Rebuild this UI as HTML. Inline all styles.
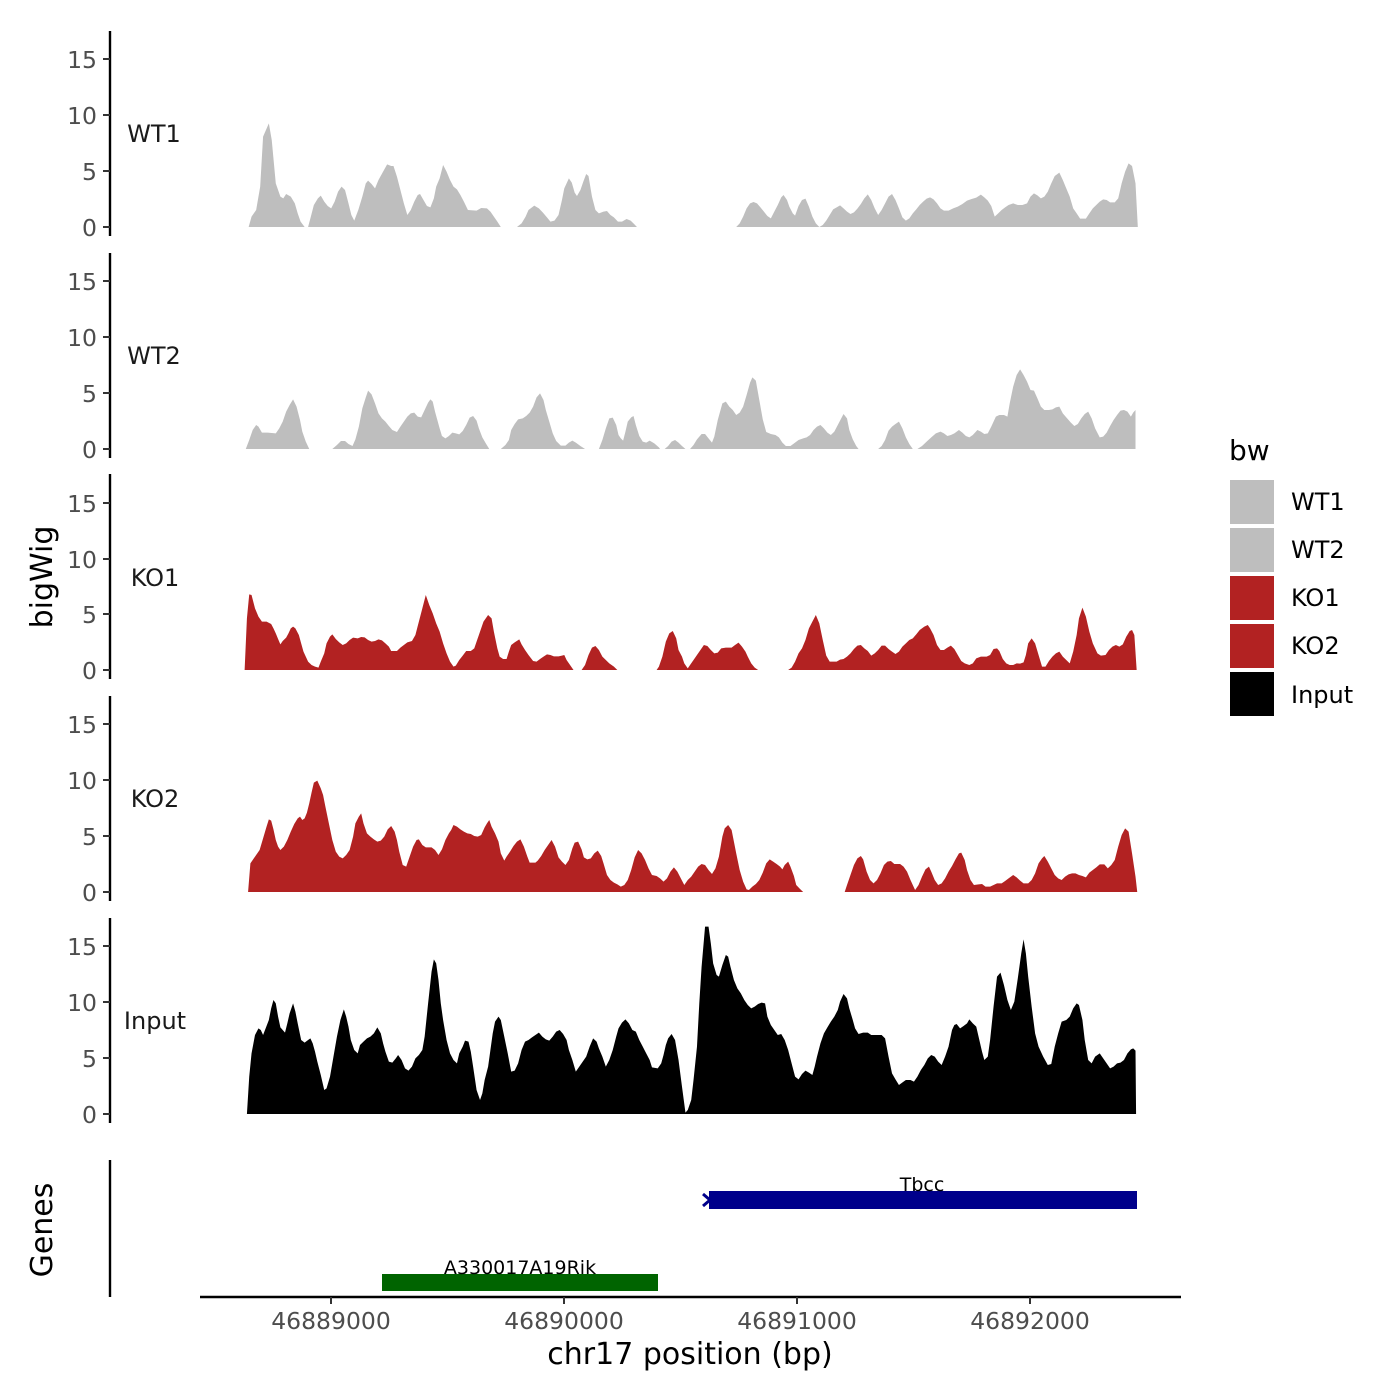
<!DOCTYPE html>
<html><head><meta charset="utf-8"><style>
html,body{margin:0;padding:0;background:#fff}
svg{display:block;font-family:"DejaVu Sans","Liberation Sans",sans-serif}
.t{fill:#4d4d4d;font-size:23.5px}
</style></head><body>
<svg width="1400" height="1400" viewBox="0 0 1400 1400" xmlns="http://www.w3.org/2000/svg">
<rect width="1400" height="1400" fill="#fff"/>
<g stroke="#000" stroke-width="2.4" fill="none">
<line x1="110" y1="31" x2="110" y2="236"/>
<line x1="110" y1="253" x2="110" y2="458"/>
<line x1="110" y1="474" x2="110" y2="679"/>
<line x1="110" y1="696" x2="110" y2="901"/>
<line x1="110" y1="918" x2="110" y2="1123"/>
<line x1="110" y1="1160" x2="110" y2="1297"/>
<line x1="200" y1="1297" x2="1181" y2="1297"/>
</g>
<g stroke="#333" stroke-width="2">
<line x1="103" y1="59" x2="110" y2="59"/><line x1="103" y1="115" x2="110" y2="115"/><line x1="103" y1="171" x2="110" y2="171"/><line x1="103" y1="227" x2="110" y2="227"/>
<line x1="103" y1="281" x2="110" y2="281"/><line x1="103" y1="337" x2="110" y2="337"/><line x1="103" y1="393" x2="110" y2="393"/><line x1="103" y1="449" x2="110" y2="449"/>
<line x1="103" y1="503" x2="110" y2="503"/><line x1="103" y1="559" x2="110" y2="559"/><line x1="103" y1="614" x2="110" y2="614"/><line x1="103" y1="670" x2="110" y2="670"/>
<line x1="103" y1="724" x2="110" y2="724"/><line x1="103" y1="780" x2="110" y2="780"/><line x1="103" y1="836" x2="110" y2="836"/><line x1="103" y1="892" x2="110" y2="892"/>
<line x1="103" y1="946" x2="110" y2="946"/><line x1="103" y1="1002" x2="110" y2="1002"/><line x1="103" y1="1058" x2="110" y2="1058"/><line x1="103" y1="1114" x2="110" y2="1114"/>
<line x1="331" y1="1297" x2="331" y2="1304"/><line x1="564" y1="1297" x2="564" y2="1304"/><line x1="797" y1="1297" x2="797" y2="1304"/><line x1="1030" y1="1297" x2="1030" y2="1304"/>
</g>
<g class="t" text-anchor="end">
<text x="97" y="68">15</text><text x="97" y="124">10</text><text x="97" y="180">5</text><text x="97" y="236">0</text>
<text x="97" y="290">15</text><text x="97" y="346">10</text><text x="97" y="402">5</text><text x="97" y="458">0</text>
<text x="97" y="512">15</text><text x="97" y="568">10</text><text x="97" y="623">5</text><text x="97" y="679">0</text>
<text x="97" y="733">15</text><text x="97" y="789">10</text><text x="97" y="845">5</text><text x="97" y="901">0</text>
<text x="97" y="955">15</text><text x="97" y="1011">10</text><text x="97" y="1067">5</text><text x="97" y="1123">0</text>
</g>
<g class="t" text-anchor="middle">
<text x="331" y="1329">46889000</text><text x="564" y="1329">46890000</text><text x="797" y="1329">46891000</text><text x="1030" y="1329">46892000</text>
</g>
<g font-size="24" fill="#1a1a1a" text-anchor="middle">
<text x="154" y="142">WT1</text><text x="154" y="364">WT2</text><text x="155" y="586">KO1</text><text x="155" y="807">KO2</text><text x="155" y="1029">Input</text>
</g>
<text x="690" y="1364" font-size="30" text-anchor="middle" fill="#000">chr17 position (bp)</text>
<text transform="translate(52,577) rotate(-90)" font-size="30" text-anchor="middle" fill="#000">bigWig</text>
<text transform="translate(52,1230) rotate(-90)" font-size="30" text-anchor="middle" fill="#000">Genes</text>

<g transform="translate(240,100) scale(0.577,0.33333)" fill="#bebebe">
<polygon points="15,381 20,350 28,330 35,260 40,110 50,70 55,120 62,250 70,290 75,295 80,282 88,290 95,310 100,340 105,365 112,381 118,381 122,355 128,315 135,295 140,287 146,305 152,318 158,325 164,305 170,275 176,260 182,270 188,310 193,345 198,362 205,330 212,290 218,250 222,242 228,252 234,265 240,240 248,215 255,193 262,198 266,198 272,230 278,270 284,310 290,345 296,330 302,305 308,285 312,282 318,300 324,318 330,322 336,295 340,260 346,235 352,195 358,215 364,240 370,260 376,268 382,285 388,305 395,330 410,332 418,324 428,325 434,335 440,350 446,365 452,381"/>
<polygon points="480,381 488,370 495,350 500,330 510,317 518,325 525,338 532,352 538,365 545,362 552,345 558,300 562,265 570,235 575,248 580,278 584,288 590,270 595,245 600,222 604,228 610,290 616,330 622,340 630,335 636,333 642,345 648,352 655,365 662,365 670,357 677,362 683,372 688,381"/>
<polygon points="860,381 866,370 872,350 878,325 884,310 890,306 896,310 902,322 908,335 914,348 920,355 926,335 932,315 938,292 942,285 948,300 952,320 958,340 962,347 968,318 974,300 980,296 986,320 992,350 998,370 1004,381 1010,375 1016,362 1022,345 1028,328 1034,322 1040,316 1046,325 1052,335 1058,342 1064,337 1070,326 1076,312 1082,295 1088,283 1094,300 1100,325 1106,345 1112,330 1118,310 1124,290 1130,282 1136,300 1142,325 1148,352 1154,362 1160,355 1166,340 1172,328 1178,315 1184,305 1190,296 1196,292 1202,298 1208,310 1214,325 1220,332 1228,332 1236,325 1244,320 1252,312 1260,302 1268,297 1276,293 1284,284 1290,292 1296,302 1302,318 1308,350 1314,340 1320,330 1326,322 1332,315 1340,310 1348,315 1356,315 1364,310 1370,290 1376,280 1382,286 1388,295 1394,290 1400,275 1406,250 1412,228 1420,218 1426,240 1432,265 1438,290 1444,325 1450,340 1456,356 1466,356 1472,340 1478,325 1484,315 1490,305 1496,298 1502,300 1508,307 1516,307 1522,295 1528,250 1534,215 1540,190 1546,198 1552,250 1556,381"/>
</g>
<g transform="translate(240,360) scale(0.577,0.33333)" fill="#bebebe">
<polygon points="10,267 16,240 22,210 28,195 32,200 38,218 48,218 62,220 68,205 74,185 80,155 86,135 92,118 98,140 104,180 108,215 114,245 120,267"/>
<polygon points="160,267 168,255 175,243 182,243 188,252 195,258 200,238 206,200 212,145 218,112 222,92 228,103 234,130 240,160 246,175 252,185 258,198 264,210 272,216 278,200 284,185 290,170 296,160 302,158 308,170 314,172 320,150 326,128 330,118 334,125 338,155 342,180 346,205 350,228 356,235 362,228 368,218 374,220 380,223 386,213 392,195 398,173 404,168 410,182 414,205 420,232 426,250 432,267"/>
<polygon points="452,267 460,255 466,240 470,210 476,192 482,178 490,175 496,168 502,158 508,140 514,112 520,100 526,120 530,150 536,185 542,220 548,243 556,257 564,257 570,248 576,242 582,248 590,258 598,267"/>
<polygon points="622,267 628,240 634,205 640,175 646,173 652,195 656,225 660,235 664,242 668,215 672,185 678,172 682,168 686,195 692,228 698,245 704,248 710,242 718,250 726,262 728,267"/>
<polygon points="736,267 742,258 748,245 754,240 760,248 766,258 772,267"/>
<polygon points="780,267 786,255 792,238 800,222 806,222 812,235 818,248 822,230 828,180 836,130 842,125 848,140 854,150 860,165 866,158 872,140 878,105 884,68 888,52 894,62 900,120 906,178 912,216 920,222 928,225 934,232 940,248 946,258 954,258 962,248 968,240 976,235 982,232 988,225 994,210 1000,200 1006,195 1012,205 1018,218 1024,225 1030,215 1036,195 1042,175 1046,162 1052,175 1056,210 1062,238 1068,258 1072,267"/>
<polygon points="1106,267 1112,258 1118,240 1124,212 1130,200 1136,192 1142,185 1148,205 1154,232 1160,252 1166,267"/>
<polygon points="1174,267 1182,258 1190,245 1198,232 1206,220 1214,215 1220,220 1226,228 1232,225 1238,220 1246,210 1252,218 1258,228 1264,232 1270,225 1278,210 1284,215 1290,222 1296,220 1302,200 1310,170 1316,165 1324,165 1330,170 1334,130 1340,80 1346,45 1352,28 1358,45 1364,65 1370,90 1376,92 1382,115 1388,140 1394,150 1402,150 1408,148 1414,142 1420,140 1426,160 1432,172 1440,188 1446,198 1452,192 1458,175 1464,162 1470,155 1476,175 1482,205 1490,232 1496,230 1502,218 1508,198 1514,180 1520,165 1526,152 1532,150 1538,155 1544,170 1548,158 1552,150 1552,267"/>
</g>
<g transform="translate(240,585) scale(0.577,0.33333)" fill="#b22222">
<polygon points="8,255 12,100 16,28 20,30 26,70 32,95 38,110 46,110 54,117 58,130 62,145 66,162 70,178 74,168 80,158 84,145 88,130 92,125 96,130 102,150 106,175 110,200 114,215 118,230 124,240 130,245 136,248 140,230 146,205 150,175 156,155 160,148 166,162 172,172 178,180 184,175 190,165 196,158 204,160 210,156 216,157 222,165 228,170 234,168 240,163 246,166 252,175 258,185 262,198 272,198 278,188 284,180 290,172 298,168 304,150 310,110 316,70 322,30 328,60 334,85 340,115 346,140 352,175 358,205 364,230 370,245 374,242 380,225 386,212 392,198 400,198 406,190 410,170 416,140 422,110 430,90 436,100 440,140 446,190 450,215 456,222 462,222 466,200 470,180 476,172 484,163 488,178 494,195 500,210 508,228 514,230 520,222 526,215 532,208 538,210 544,214 552,214 558,212 562,210 566,225 572,240 578,255"/>
<polygon points="592,255 598,240 604,210 610,188 616,183 622,195 628,215 634,225 640,235 648,245 654,255"/>
<polygon points="722,255 726,245 732,215 738,170 744,145 750,138 756,160 760,195 766,215 770,235 776,250 780,240 786,225 792,210 798,195 804,180 810,183 816,195 822,205 828,203 834,190 842,188 852,188 858,180 864,173 870,185 876,200 880,215 886,235 892,248 898,255"/>
<polygon points="950,255 956,248 962,230 968,205 974,190 980,165 986,130 992,110 998,90 1004,115 1010,165 1016,212 1022,230 1034,230 1040,224 1046,222 1052,215 1058,205 1064,192 1070,182 1076,180 1082,190 1088,198 1094,212 1100,205 1106,195 1112,182 1118,182 1124,192 1130,200 1136,207 1142,200 1148,185 1154,175 1160,165 1166,160 1172,148 1178,135 1186,125 1192,120 1196,130 1202,150 1208,180 1214,195 1220,195 1226,188 1232,182 1238,192 1244,210 1250,228 1256,235 1264,240 1270,235 1276,220 1284,215 1294,215 1300,210 1306,192 1312,190 1316,198 1322,222 1328,235 1334,240 1340,240 1346,235 1352,236 1358,232 1362,210 1366,175 1372,160 1378,175 1384,210 1390,245 1396,245 1402,228 1408,215 1414,205 1420,200 1426,215 1432,225 1438,235 1444,200 1450,150 1454,100 1460,68 1466,95 1472,140 1478,175 1486,205 1492,212 1500,210 1506,195 1512,185 1518,180 1524,185 1530,178 1536,155 1542,138 1546,135 1550,150 1554,255"/>
</g>
<g transform="translate(240,770) scale(0.577,0.33333)" fill="#b22222">
<polygon points="14,366 18,280 22,270 28,255 34,240 40,205 46,170 50,148 54,152 58,178 62,210 66,230 70,240 76,230 82,210 88,185 94,162 100,145 104,140 108,150 112,145 116,128 120,100 124,68 128,38 134,32 140,55 144,75 148,110 154,160 160,210 166,245 172,260 178,265 184,255 190,240 196,200 200,160 206,140 210,130 214,160 220,190 226,200 232,208 238,215 244,212 250,200 256,178 262,168 268,185 272,210 276,245 282,285 288,290 294,260 300,230 306,210 310,208 316,225 322,232 332,232 338,240 344,255 350,238 356,210 362,190 366,180 370,165 376,170 382,178 388,185 394,190 400,192 406,198 412,200 418,195 424,172 428,160 432,150 436,170 442,190 448,215 452,250 458,272 462,260 468,245 474,228 480,215 486,208 492,230 498,260 502,278 512,278 516,272 522,258 528,240 534,225 540,210 546,230 552,262 558,275 564,285 570,270 576,235 580,218 586,215 592,238 596,262 602,268 608,265 614,250 620,242 626,258 630,280 636,315 642,330 648,338 654,343 660,350 666,345 672,330 678,300 684,262 690,240 696,250 702,270 708,295 714,315 722,318 728,325 734,335 740,325 746,305 752,292 758,305 764,325 770,345 776,330 782,320 788,305 794,290 800,282 806,285 812,300 818,312 824,295 830,260 836,200 840,175 846,165 852,180 856,215 860,250 866,300 872,335 878,358 882,360 888,350 894,342 900,330 906,308 912,280 918,268 924,275 930,282 936,290 940,298 944,285 950,275 954,290 960,318 964,345 970,356 976,366"/>
<polygon points="1048,366 1052,345 1058,315 1064,285 1070,265 1076,258 1080,268 1086,305 1092,330 1098,340 1104,330 1110,310 1116,285 1122,275 1128,273 1134,282 1144,282 1150,290 1156,305 1162,330 1170,360 1176,345 1182,320 1188,298 1194,290 1198,305 1204,330 1210,345 1216,340 1222,325 1228,305 1234,288 1240,268 1246,250 1250,248 1256,270 1260,300 1266,330 1272,345 1280,343 1286,342 1292,350 1300,350 1306,345 1312,340 1320,340 1326,333 1332,325 1340,315 1346,322 1352,332 1358,340 1366,340 1372,330 1378,310 1384,280 1390,265 1394,258 1400,275 1406,295 1412,315 1418,325 1424,330 1430,320 1436,313 1442,310 1448,310 1454,315 1460,318 1466,322 1472,308 1478,300 1484,292 1490,283 1498,283 1504,295 1510,285 1516,270 1522,230 1528,195 1534,175 1540,185 1546,250 1552,320 1555,366"/>
</g>
<g transform="translate(240,920) scale(0.577,0.33333)" fill="#000">
<polygon points="12,582 16,470 20,400 26,345 32,325 36,330 40,345 46,318 50,300 54,265 58,240 62,250 66,290 70,322 74,330 78,338 82,310 86,280 92,250 96,275 100,310 106,360 112,368 118,360 122,355 126,370 130,395 134,425 140,465 146,510 150,505 156,470 162,410 168,350 174,300 180,268 184,290 188,320 192,360 198,390 204,400 208,375 214,365 220,355 226,350 232,340 238,322 244,340 248,370 252,395 258,425 264,428 270,415 274,405 280,420 286,445 292,452 298,440 304,415 310,405 316,390 320,350 326,250 332,155 336,118 340,130 344,180 348,250 352,300 358,360 364,400 370,420 376,430 380,400 386,380 390,362 396,365 400,395 404,440 410,510 416,540 420,520 424,480 430,440 434,390 438,340 442,305 448,290 452,300 458,350 464,400 470,455 476,452 482,430 488,390 494,365 500,360 506,352 512,345 518,338 524,350 530,358 536,362 542,350 548,335 554,330 560,342 566,360 570,390 576,420 582,455 588,440 594,425 600,410 606,380 612,355 618,365 622,385 628,410 634,440 640,420 646,390 652,350 656,325 662,308 668,298 674,310 680,330 686,335 692,360 698,380 704,400 710,420 714,442 724,445 730,430 734,405 738,375 742,355 748,342 754,360 760,420 766,500 772,578 776,570 782,540 786,480 792,380 796,250 800,140 806,20 812,20 816,70 820,130 826,165 830,170 836,135 842,105 846,110 850,140 856,180 862,205 868,220 874,240 880,255 886,265 892,260 898,252 904,248 910,250 914,290 920,315 926,330 932,345 938,342 944,360 950,390 956,430 962,470 968,478 974,462 980,452 986,458 992,465 996,440 1000,410 1006,370 1012,340 1018,322 1024,305 1030,290 1036,270 1040,245 1046,222 1052,235 1056,265 1062,300 1066,325 1072,342 1080,338 1088,338 1094,345 1104,345 1112,345 1118,355 1124,410 1130,460 1136,478 1142,495 1150,485 1154,480 1162,480 1168,485 1174,470 1180,450 1186,435 1192,415 1198,405 1204,410 1210,425 1216,435 1222,410 1228,380 1234,330 1238,315 1242,312 1248,325 1254,318 1260,310 1264,298 1270,310 1276,320 1280,350 1286,395 1290,420 1296,410 1300,360 1306,260 1312,170 1318,158 1324,195 1330,240 1336,270 1342,245 1348,175 1354,100 1358,58 1362,100 1366,170 1372,260 1378,340 1384,380 1392,410 1400,435 1406,432 1412,380 1418,340 1424,305 1432,300 1438,290 1444,265 1450,250 1454,255 1460,300 1464,360 1470,420 1476,430 1482,410 1490,400 1496,415 1502,430 1508,445 1514,440 1520,430 1526,428 1532,420 1538,400 1544,388 1548,385 1552,392 1553,582"/>
</g>
<rect x="709" y="1191" width="428" height="18" fill="#00008b"/>
<path d="M703,1194 L710,1200 L703,1206" stroke="#00008b" stroke-width="3" fill="none"/>
<text x="922" y="1191" font-size="19" text-anchor="middle" fill="#000">Tbcc</text>
<rect x="382" y="1274" width="276" height="17" fill="#006400"/>
<text x="520" y="1274" font-size="19" text-anchor="middle" fill="#000">A330017A19Rik</text>
<text x="1229" y="460" font-size="28" fill="#000">bw</text>
<rect x="1230" y="480" width="44" height="44" fill="#bebebe"/>
<rect x="1230" y="528" width="44" height="44" fill="#bebebe"/>
<rect x="1230" y="576" width="44" height="44" fill="#b22222"/>
<rect x="1230" y="624" width="44" height="44" fill="#b22222"/>
<rect x="1230" y="672" width="44" height="44" fill="#000"/>
<g font-size="24" fill="#000">
<text x="1291" y="510">WT1</text><text x="1291" y="558">WT2</text><text x="1291" y="606">KO1</text><text x="1291" y="654">KO2</text><text x="1291" y="703">Input</text>
</g>
</svg>
</body></html>
